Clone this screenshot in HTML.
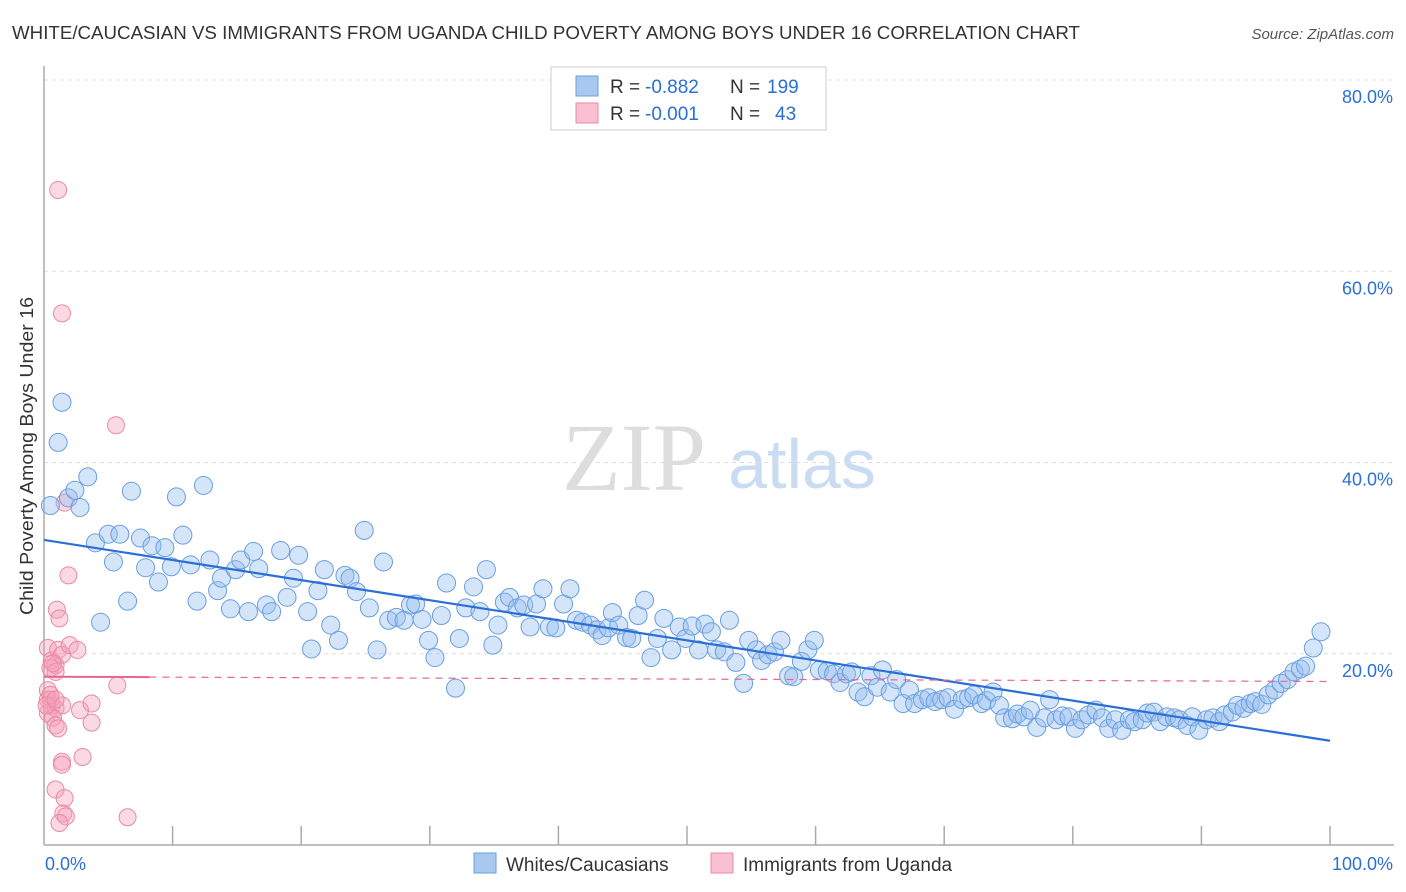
<!DOCTYPE html>
<html><head><meta charset="utf-8"><style>
body{margin:0;background:#fff;font-family:"Liberation Sans",sans-serif}
svg{display:block}
</style></head><body>
<svg id="chart" width="1406" height="892" viewBox="0 0 1406 892" xmlns="http://www.w3.org/2000/svg">
<text x="12" y="39" font-size="18" fill="#333" textLength="1068" lengthAdjust="spacingAndGlyphs">WHITE/CAUCASIAN VS IMMIGRANTS FROM UGANDA CHILD POVERTY AMONG BOYS UNDER 16 CORRELATION CHART</text>
<text x="1394" y="39" font-size="15" fill="#555" font-style="italic" text-anchor="end">Source: ZipAtlas.com</text>
<g><text x="634" y="490" font-size="96" fill="#ddd" font-family="Liberation Serif,serif" text-anchor="middle">ZIP</text><text x="802" y="488" font-size="70" fill="#c9dcf2" text-anchor="middle">atlas</text></g>
<g id="grid"></g><g id="axes"></g><g id="pinkpts"></g><g id="bluepts"></g><g id="lines"></g>
<text transform="translate(33,456) rotate(-90)" font-size="18" fill="#333" text-anchor="middle" textLength="318" lengthAdjust="spacingAndGlyphs">Child Poverty Among Boys Under 16</text>
<g>
<rect x="551" y="67" width="275" height="63" fill="#fff" stroke="#ccc"/>
<rect x="576" y="76" width="22" height="20" fill="#a9c8f0" stroke="#6a9ee0"/>
<text x="610" y="93" font-size="19" fill="#333">R =</text>
<text x="645" y="93" font-size="19" fill="#2a6fd6">-0.882</text>
<text x="730" y="93" font-size="19" fill="#333">N =</text>
<text x="767" y="93" font-size="19" fill="#2a6fd6">199</text>
<rect x="576" y="103" width="22" height="20" fill="#f8c0d0" stroke="#e88aa5"/>
<text x="610" y="120" font-size="19" fill="#333">R =</text>
<text x="645" y="120" font-size="19" fill="#2a6fd6">-0.001</text>
<text x="730" y="120" font-size="19" fill="#333">N =</text>
<text x="775" y="120" font-size="19" fill="#2a6fd6">43</text>
</g>
<g>
<rect x="474" y="853" width="22" height="20" fill="#a9c8f0" stroke="#6a9ee0"/>
<text x="506" y="871" font-size="19" fill="#333">Whites/Caucasians</text>
<rect x="711" y="853" width="22" height="20" fill="#f8c0d0" stroke="#e88aa5"/>
<text x="743" y="871" font-size="19" fill="#333">Immigrants from Uganda</text>
</g>
</svg>
<script>
const yTicks=[20,40,60,80];
const yTickLabels=["20.0%","40.0%","60.0%","80.0%"];
const xTicks=[10,20,30,40,50,60,70,80,90,100];
const xLabels=["0.0%","100.0%"];
const blueX=[0.5,1.1,1.4,1.9,2.4,2.8,3.4,4.0,4.4,5.0,5.4,5.9,6.5,6.8,7.5,7.9,8.4,8.9,9.4,9.9,10.3,10.8,11.4,11.9,12.4,12.9,13.5,13.8,14.5,14.9,15.3,15.9,16.3,16.7,17.3,17.7,18.4,18.9,19.4,19.8,20.5,20.8,21.3,21.8,22.3,22.9,23.4,23.8,24.3,24.9,25.3,25.9,26.4,26.8,27.4,28.0,28.5,28.9,29.4,29.9,30.4,30.9,31.3,32.0,32.3,32.8,33.4,33.9,34.4,34.9,35.3,35.8,36.2,36.8,37.3,37.8,38.3,38.8,39.3,39.8,40.4,40.9,41.4,41.9,42.5,43.0,43.4,43.9,44.2,44.7,45.3,45.7,46.2,46.7,47.2,47.7,48.2,48.8,49.4,49.9,50.4,50.9,51.4,51.9,52.3,52.9,53.3,53.8,54.4,54.8,55.4,55.8,56.3,56.8,57.3,57.9,58.3,58.9,59.4,59.9,60.3,60.9,61.4,61.9,62.4,62.8,63.3,63.8,64.3,64.8,65.2,65.8,66.3,66.8,67.3,67.7,68.3,68.8,69.3,69.8,70.3,70.8,71.4,71.9,72.3,72.9,73.3,73.8,74.3,74.7,75.3,75.7,76.2,76.7,77.2,77.8,78.2,78.7,79.2,79.7,80.2,80.7,81.2,81.8,82.3,82.8,83.3,83.8,84.4,84.8,85.4,85.8,86.3,86.8,87.3,87.9,88.3,88.9,89.3,89.8,90.4,90.9,91.4,91.8,92.4,92.8,93.3,93.8,94.2,94.7,95.2,95.7,96.2,96.7,97.2,97.7,98.1,98.7,99.3];
const blueY=[35.5,42.1,46.3,36.3,37.1,35.3,38.5,31.6,23.3,32.5,29.6,32.5,25.5,37.0,32.1,29.0,31.3,27.5,31.1,29.1,36.4,32.4,29.3,25.5,37.6,29.8,26.6,27.9,24.7,28.8,29.8,24.4,30.7,28.9,25.1,24.4,30.8,25.9,27.9,30.3,24.4,20.5,26.6,28.8,23.0,21.4,28.2,27.9,26.5,32.9,24.8,20.4,29.6,23.5,23.8,23.5,25.1,25.2,23.6,21.4,19.6,24.0,27.4,16.4,21.6,24.8,27.0,24.4,28.8,20.9,23.0,25.4,25.9,24.8,25.1,22.8,25.2,26.8,22.8,22.7,25.2,26.8,23.5,23.3,23.0,22.5,21.9,22.7,24.3,23.0,21.7,21.6,24.0,25.6,19.6,21.6,23.7,20.4,22.8,21.6,22.9,20.4,23.1,22.3,20.4,20.2,23.5,19.1,16.9,21.4,20.4,19.3,19.9,20.2,21.4,17.7,17.6,19.2,20.4,21.4,18.3,18.2,17.9,17.0,17.9,18.1,16.0,15.5,17.7,16.5,18.3,16.0,17.3,14.8,16.2,14.8,15.2,15.4,15.0,15.2,15.4,14.2,15.2,15.4,15.7,14.8,15.1,16.0,14.6,13.3,13.2,13.7,13.4,14.1,12.3,13.3,15.2,13.1,13.5,13.4,12.2,13.1,13.6,14.1,13.3,12.2,13.1,12.0,13.1,12.9,13.1,13.8,13.9,12.9,13.4,13.3,13.1,12.5,13.4,12.0,13.1,13.3,12.9,13.6,13.9,14.6,14.3,14.8,15.0,14.7,15.7,16.2,16.9,17.3,18.1,18.4,18.7,20.6,22.3];
const pinkX=[1.1,1.4,5.6,1.6,1.9,1.0,1.2,0.3,0.6,0.9,1.1,1.4,2.0,2.6,0.5,0.9,5.7,0.3,0.5,0.6,0.9,1.4,0.3,0.7,2.8,3.7,3.7,0.9,1.1,1.4,1.4,3.0,0.9,1.6,1.5,1.7,1.2,6.5,0.3,0.5,0.2,0.9,0.7];
const pinkY=[68.5,55.6,43.9,35.8,28.2,24.6,23.7,20.6,19.3,18.8,20.4,19.9,20.9,20.4,18.5,18.1,16.7,16.2,15.2,14.6,14.3,14.6,13.8,13.3,14.1,14.8,12.8,12.5,12.2,8.7,8.4,9.2,5.8,4.9,3.3,3.0,2.3,2.9,15.2,15.7,14.6,15.2,19.0];
const blueTrend=[31.9,10.9];
const pinkTrend=[17.6,17.1];
const NS="http://www.w3.org/2000/svg";
const X0=44,X1=1330,Y0=845,YT=80;
const sx=v=>X0+(X1-X0)*v/100;
const sy=v=>Y0-(Y0-YT)*v/80;
function mk(tag,attrs,parent){const e=document.createElementNS(NS,tag);for(const k in attrs)e.setAttribute(k,attrs[k]);parent.appendChild(e);return e;}
const grid=document.getElementById('grid'),axes=document.getElementById('axes');
yTicks.forEach((t,i)=>{
 const l=mk('line',{x1:X0,x2:1394,y1:sy(t),y2:sy(t),stroke:'#ddd','stroke-dasharray':'4,4'},grid);
 
 
 const tx=mk('text',{x:1393,y:sy(t)+23,'font-size':18,fill:'#2a6fd6','text-anchor':'end'},axes);
 tx.textContent=yTickLabels[i];
 
 
});
const ya=mk('line',{x1:X0,x2:X0,y1:66,y2:Y0,stroke:'#aaa','stroke-width':1.5},axes);


const xa=mk('line',{x1:X0,x2:1394,y1:Y0,y2:Y0,stroke:'#aaa','stroke-width':1.5},axes);


xTicks.forEach(t=>{
 const l=mk('line',{x1:sx(t),x2:sx(t),y1:826,y2:Y0,stroke:'#aaa','stroke-width':1.5},axes);
 
 
});
const xl0=mk('text',{x:45,y:870,'font-size':18,fill:'#2a6fd6'},axes);xl0.textContent=xLabels[0];


const xl1=mk('text',{x:1393,y:870,'font-size':18,fill:'#2a6fd6','text-anchor':'end'},axes);xl1.textContent=xLabels[1];


const pg=document.getElementById('pinkpts');
pinkX.forEach((v,i)=>{
 const c=mk('circle',{cx:sx(v),cy:sy(pinkY[i]),r:8.5,fill:'rgba(244,160,185,0.4)',stroke:'#e88aa5','stroke-width':1},pg);
 
 
});
const bg=document.getElementById('bluepts');
blueX.forEach((v,i)=>{
 const c=mk('circle',{cx:sx(v),cy:sy(blueY[i]),r:9,fill:'rgba(150,190,240,0.4)',stroke:'#6a9ee0','stroke-width':1},bg);
 
 
});
const lg=document.getElementById('lines');
const bl=mk('line',{x1:sx(0),y1:sy(blueTrend[0]),x2:sx(100),y2:sy(blueTrend[1]),stroke:'#2a6fd6','stroke-width':2.2},lg);


const pm=pinkTrend[0]+(pinkTrend[1]-pinkTrend[0])*0.082;
const pl=mk('line',{x1:sx(0),y1:sy(pinkTrend[0]),x2:sx(8.2),y2:sy(pm),stroke:'#e8668e','stroke-width':2},lg);


const pd=mk('line',{x1:sx(8.2),y1:sy(pm),x2:sx(100),y2:sy(pinkTrend[1]),stroke:'#e8668e','stroke-width':1.2,'stroke-dasharray':'7,6'},lg);


</script>
</body></html>
